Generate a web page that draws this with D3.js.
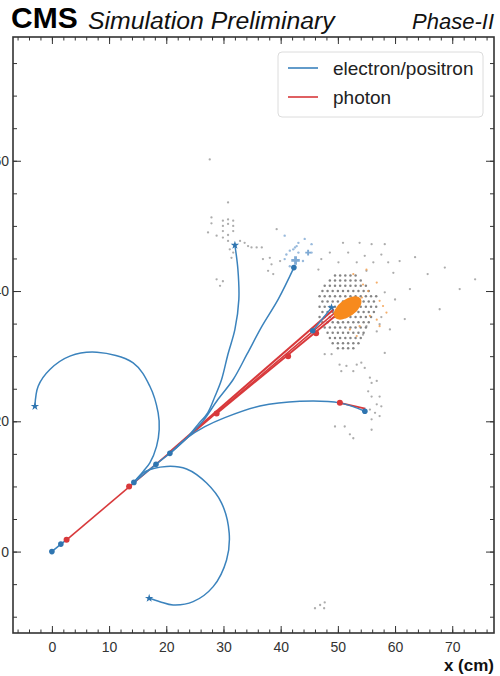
<!DOCTYPE html>
<html>
<head>
<meta charset="utf-8">
<script src="https://cdn.jsdelivr.net/npm/d3@7"></script>
<style>
  body { margin: 0; background: #fff; }
  svg text { font-family: "Liberation Sans", Arial, Helvetica, sans-serif; }
</style>
</head>
<body>
<div id="chart"></div>
<script>
// ---- data (cm) ----
const xTicks = [0, 10, 20, 30, 40, 50, 60, 70];
const yTicks = [0, 20, 40, 60];
const legendLabels = ["electron/positron", "photon"];

// electron / positron tracks
const loopUp = [[14.34, 10.62], [15.96, 12.31], [17.13, 13.6], [18.3, 16.15], [18.76, 18.72], [18.58, 21.29],
  [17.13, 25.38], [14.21, 28.98], [7.87, 30.6], [3.15, 30.0], [-0.35, 27.95], [-2.4, 25.38], [-2.97, 22.3]];
const loopDown = [[14.34, 10.62], [16.26, 12.26], [20.05, 13.08], [23.55, 12.68], [27.05, 10.52], [29.67, 7.45],
  [31.0, 2.83], [30.54, -1.28], [28.2, -5.38], [24.7, -7.69], [21.2, -8.2], [18.88, -7.69], [17.01, -7.17]];
const trackB = [[20.63, 15.08], [23.6, 17.45], [25.52, 19.49], [27.27, 21.34], [28.5, 23.8], [29.67, 26.42],
  [30.77, 30.26], [32.0, 34.1], [32.69, 38.72], [32.52, 43.34], [32.0, 47.03]];
const trackC = [[20.63, 15.08], [23.6, 17.45], [26.4, 20.03], [29.02, 23.34], [31.7, 26.42], [34.09, 30.26],
  [36.71, 34.57], [39.56, 38.72], [42.31, 43.6]];
const trackD = [[20.63, 15.08], [23.6, 17.45], [26.75, 19.18], [30.24, 20.57], [36.36, 22.34], [43.36, 23.08],
  [50.35, 22.83], [54.72, 21.54]];
const stubStart = [[0, 0], [1.57, 1.15], [2.57, 1.8]];
const stubMid = [[14.34, 10.62], [18.2, 13.4], [20.63, 15.08]];
const stubBlob = [[45.6, 33.9], [48.9, 37.45]];
const electronTracks = [loopUp, loopDown, trackB, trackC, trackD, stubStart, stubMid, stubBlob];

// photons
const photonTracks = [
  [[2.57, 1.8], [49.6, 36.75]],
  [[20.6, 15.3], [49.3, 37.2]],
  [[28.8, 21.2], [49.9, 36.45]],
  [[50.35, 22.83], [54.8, 21.95]]
];

// vertices
const blueDots = [[0, 0], [1.57, 1.15], [14.34, 10.62], [18.2, 13.4], [20.63, 15.08], [45.6, 33.9], [42.31, 43.6], [54.72, 21.54]];
const blueStars = [[-2.97, 22.3], [17.01, -7.17], [32.0, 47.03], [48.9, 37.45]];
const blueCrosses = [[42.6, 44.7], [44.8, 45.9]];
const redDots = [[2.57, 1.8], [13.5, 10.0], [28.8, 21.2], [41.3, 30.0], [46.2, 33.5], [50.35, 22.83]];

// calorimeter hits
const denseRows = [
  [42.4, [49.5, 50.4, 51.3, 52.2, 53.1]],
  [41.6, [48.6, 49.5, 50.4, 51.3, 52.2, 53.1, 54.0]],
  [40.8, [47.7, 48.6, 49.5, 50.4, 51.3, 52.2, 53.1, 54.0, 54.9]],
  [40.0, [47.3, 48.2, 49.1, 50.0, 50.9, 51.8, 52.7, 53.6, 54.5, 55.4]],
  [39.2, [46.8, 47.7, 48.6, 49.5, 50.4, 51.3, 52.2, 53.1, 54.0, 54.9, 55.8, 56.7]],
  [38.4, [47.3, 48.2, 49.1, 50.0, 50.9, 51.8, 52.7, 53.6, 54.5, 55.4, 56.3]],
  [37.6, [46.8, 47.7, 48.6, 49.5, 50.4, 51.3, 52.2, 53.1, 54.0, 54.9, 55.8, 56.7]],
  [36.8, [47.3, 48.2, 49.1, 50.0, 50.9, 51.8, 52.7, 53.6, 54.5, 55.4, 56.3]],
  [36.0, [46.8, 47.7, 48.6, 49.5, 50.4, 51.3, 52.2, 53.1, 54.0, 54.9, 55.8]],
  [35.2, [47.3, 48.2, 49.1, 50.0, 50.9, 51.8, 52.7, 53.6, 54.5, 55.4]],
  [34.4, [47.7, 48.6, 49.5, 50.4, 51.3, 52.2, 53.1, 54.0, 54.9]],
  [33.6, [48.2, 49.1, 50.0, 50.9, 51.8, 52.7, 53.6, 54.5]],
  [32.8, [48.6, 49.5, 50.4, 51.3, 52.2, 53.1, 54.0]],
  [32.0, [49.1, 50.0, 50.9, 51.8, 52.7, 53.6]],
  [31.2, [50.0, 50.9, 51.8, 52.7]]
];
const sparseHits = [
  [27.9, 51.3], [27.9, 50.4], [29.9, 50.8], [30.8, 51.0], [31.7, 50.8], [29.9, 50.0], [30.8, 50.3], [31.7, 50.0],
  [29.9, 49.2], [31.7, 49.2], [27.3, 49.0], [28.8, 48.5], [29.9, 48.2], [30.8, 48.6], [30.8, 47.7], [32.9, 47.7],
  [33.7, 47.4], [34.3, 46.9], [34.9, 46.7], [35.8, 46.7], [36.7, 46.7], [31.1, 46.4], [31.7, 45.9], [31.4, 45.1],
  [30.8, 53.6], [39.3, 49.5], [28.8, 41.8], [29.9, 41.5], [29.4, 40.8], [38.1, 45.1], [36.9, 44.9], [38.4, 44.1],
  [37.8, 43.1], [38.7, 42.6], [39.9, 44.6], [27.6, 60.2],
  [50.9, 47.4], [53.8, 47.4], [55.9, 47.2], [58.2, 47.2], [48.6, 45.9], [51.8, 45.9], [54.7, 45.4], [57.6, 45.6],
  [47.1, 44.9], [50.1, 44.4], [53.3, 44.4], [56.2, 44.4], [58.8, 44.4], [46.6, 43.3], [55.0, 43.1], [59.7, 42.8],
  [60.8, 44.6], [63.5, 45.2], [65.7, 42.6], [68.7, 43.6], [71.3, 40.3], [74.0, 41.8], [60.0, 38.7], [62.6, 40.3],
  [67.8, 37.2], [59.1, 34.1], [61.7, 35.7], [58.2, 39.8], [57.6, 36.0],
  [50.1, 35.1], [55.0, 34.6], [57.3, 34.9], [54.4, 33.3], [56.8, 33.8], [47.7, 30.3], [48.9, 30.3], [58.2, 30.5],
  [50.3, 28.7], [51.5, 28.5], [53.3, 28.7], [54.1, 29.0], [50.6, 27.7], [52.7, 27.7], [54.7, 28.2], [55.6, 26.7],
  [55.9, 25.9], [56.8, 26.2], [55.3, 24.6], [55.9, 23.8], [57.3, 23.8], [56.8, 22.6], [57.6, 22.3], [55.6, 21.8],
  [56.5, 21.3], [57.3, 20.8], [49.5, 19.2], [51.2, 19.2], [55.9, 20.3], [55.9, 18.7], [52.1, 18.0], [52.7, 17.4],
  [46.0, -8.7], [46.9, -8.2], [47.7, -7.8], [47.6, -8.7]
];
const blueHits = [[41.0, 45.6], [41.6, 46.2], [42.2, 46.4], [42.8, 46.9], [43.1, 45.9], [40.7, 44.9], [42.5, 46.7],
  [43.1, 47.4], [44.2, 48.0], [45.4, 47.2], [45.4, 45.9], [43.9, 44.6], [41.6, 43.8], [40.7, 48.5]];
const orangeHits = [[52.7, 42.6], [54.4, 41.0], [55.0, 43.3], [56.8, 41.3], [55.3, 40.0], [57.3, 38.5], [57.9, 37.7],
  [55.6, 36.2], [56.8, 35.6], [53.8, 34.6], [57.3, 34.6], [53.3, 33.1], [52.1, 34.1], [58.5, 36.7], [54.2, 39.0]];
const blobCenter = [51.7, 37.4];

// ---- layout ----
const W = 500, H = 676;
const colBlue = "#3b83bd", colRed = "#d8393b";
const x = d3.scaleLinear().domain([-6.8, 77.3]).range([13, 494]);
const y = d3.scaleLinear().domain([-12.5, 79.0]).range([633, 37]);

const svg = d3.select("#chart").append("svg").attr("width", W).attr("height", H);

svg.append("clipPath").attr("id", "plot")
  .append("rect").attr("x", 13).attr("y", 37).attr("width", 481).attr("height", 596);
const plot = svg.append("g").attr("clip-path", "url(#plot)");

// hits
const denseHits = denseRows.flatMap(([yy, xs]) => xs.map(xx => [xx, yy]));
plot.selectAll("circle.dense").data(denseHits).enter().append("circle")
  .attr("cx", d => x(d[0])).attr("cy", d => y(d[1])).attr("r", 1.25)
  .attr("fill", "#666").attr("opacity", 0.8);
plot.selectAll("circle.sparse").data(sparseHits).enter().append("circle")
  .attr("cx", d => x(d[0])).attr("cy", d => y(d[1])).attr("r", 1.15)
  .attr("fill", "#808080").attr("opacity", 0.65);
plot.selectAll("circle.bhit").data(blueHits).enter().append("circle")
  .attr("cx", d => x(d[0])).attr("cy", d => y(d[1])).attr("r", 1.2)
  .attr("fill", "#7fa9d3").attr("opacity", 0.8);
plot.selectAll("circle.ohit").data(orangeHits).enter().append("circle")
  .attr("cx", d => x(d[0])).attr("cy", d => y(d[1])).attr("r", 1.1)
  .attr("fill", "#f39a45").attr("opacity", 0.8);

const line = d3.line().x(d => x(d[0])).y(d => y(d[1]));
const curve = d3.line().x(d => x(d[0])).y(d => y(d[1])).curve(d3.curveCatmullRom.alpha(0.5));

// photons
plot.selectAll("path.photon").data(photonTracks).enter().append("path")
  .attr("d", line).attr("fill", "none").attr("stroke", colRed)
  .attr("stroke-width", (d, i) => i === 0 ? 1.6 : 2);

// electrons
plot.selectAll("path.electron").data(electronTracks).enter().append("path")
  .attr("d", curve).attr("fill", "none").attr("stroke", colBlue).attr("stroke-width", 1.5);

// orange cluster
plot.append("ellipse")
  .attr("transform", `translate(${x(blobCenter[0])},${y(blobCenter[1])}) rotate(-36)`)
  .attr("rx", 16).attr("ry", 8.5).attr("fill", "#f78a1d");

// markers
plot.selectAll("circle.rdot").data(redDots).enter().append("circle")
  .attr("cx", d => x(d[0])).attr("cy", d => y(d[1])).attr("r", 3).attr("fill", colRed);
plot.selectAll("circle.bdot").data(blueDots).enter().append("circle")
  .attr("cx", d => x(d[0])).attr("cy", d => y(d[1])).attr("r", 2.8).attr("fill", "#2f75b0");
plot.selectAll("path.bstar").data(blueStars).enter().append("path")
  .attr("transform", d => `translate(${x(d[0])},${y(d[1])})`)
  .attr("d", d3.symbol(d3.symbolStar, 22)).attr("fill", "#2f75b0");
plot.selectAll("path.bcross").data(blueCrosses).enter().append("path")
  .attr("transform", d => `translate(${x(d[0])},${y(d[1])})`)
  .attr("d", (d, i) => d3.symbol(d3.symbolCross, i === 0 ? 40 : 18)()).attr("fill", "#7faad4");

// ---- axes ----
const frame = svg.append("g");
function styleAxis(g) {
  g.select(".domain").remove();
  g.selectAll("line").attr("stroke", "#333").attr("stroke-width", 1);
  g.selectAll("text").attr("fill", "#333").style("font-size", "14px");
}
const xMinor = d3.range(-6, 78, 2), yMinor = d3.range(-10, 80, 5);

frame.append("g").attr("transform", "translate(0,633)")
  .call(d3.axisBottom(x).tickValues(xMinor).tickSize(-3.5).tickFormat("")).call(styleAxis);
frame.append("g").attr("transform", "translate(0,633)")
  .call(d3.axisBottom(x).tickValues(xTicks).tickSize(-7).tickPadding(9)).call(styleAxis);
frame.append("g").attr("transform", "translate(0,37)")
  .call(d3.axisTop(x).tickValues(xMinor).tickSize(-3.5).tickFormat("")).call(styleAxis);
frame.append("g").attr("transform", "translate(0,37)")
  .call(d3.axisTop(x).tickValues(xTicks).tickSize(-7).tickFormat("")).call(styleAxis);
frame.append("g").attr("transform", "translate(13,0)")
  .call(d3.axisLeft(y).tickValues(yMinor).tickSize(-4).tickFormat("")).call(styleAxis);
frame.append("g").attr("transform", "translate(13,0)")
  .call(d3.axisLeft(y).tickValues(yTicks).tickSize(-8).tickPadding(4)).call(styleAxis);
frame.append("g").attr("transform", "translate(494,0)")
  .call(d3.axisRight(y).tickValues(yMinor).tickSize(-4).tickFormat("")).call(styleAxis);
frame.append("g").attr("transform", "translate(494,0)")
  .call(d3.axisRight(y).tickValues(yTicks).tickSize(-8).tickFormat("")).call(styleAxis);

frame.append("rect").attr("x", 13).attr("y", 37).attr("width", 481).attr("height", 596)
  .attr("fill", "none").attr("stroke", "#333").attr("stroke-width", 1.6);

// ---- legend ----
const leg = svg.append("g");
leg.append("rect").attr("x", 278).attr("y", 52).attr("width", 205).attr("height", 65).attr("rx", 4)
  .attr("fill", "#fff").attr("fill-opacity", 0.85).attr("stroke", "#dcdcdc");
leg.selectAll("g.item").data(legendLabels).enter().append("g")
  .attr("transform", (d, i) => `translate(0,${68 + i * 29})`)
  .each(function (d, i) {
    const g = d3.select(this);
    g.append("line").attr("x1", 288).attr("x2", 318).attr("stroke", i === 0 ? colBlue : colRed).attr("stroke-width", 1.6);
    g.append("text").attr("x", 333).attr("y", 6.5).text(d).attr("fill", "#222").style("font-size", "19px");
  });

// ---- titles ----
svg.append("text").attr("x", 11).attr("y", 28).text("CMS")
  .style("font-weight", "bold").style("font-size", "30px").attr("fill", "#000");
svg.append("text").attr("x", 88).attr("y", 29).text("Simulation Preliminary")
  .style("font-style", "italic").style("font-size", "24.8px").attr("fill", "#111");
svg.append("text").attr("x", 494).attr("y", 29).attr("text-anchor", "end").text("Phase-II")
  .style("font-style", "italic").style("font-size", "22px").attr("fill", "#111");
svg.append("text").attr("x", 494).attr("y", 671).attr("text-anchor", "end").text("x (cm)")
  .style("font-weight", "bold").style("font-size", "17px").attr("fill", "#111");
</script>
</body>
</html>
